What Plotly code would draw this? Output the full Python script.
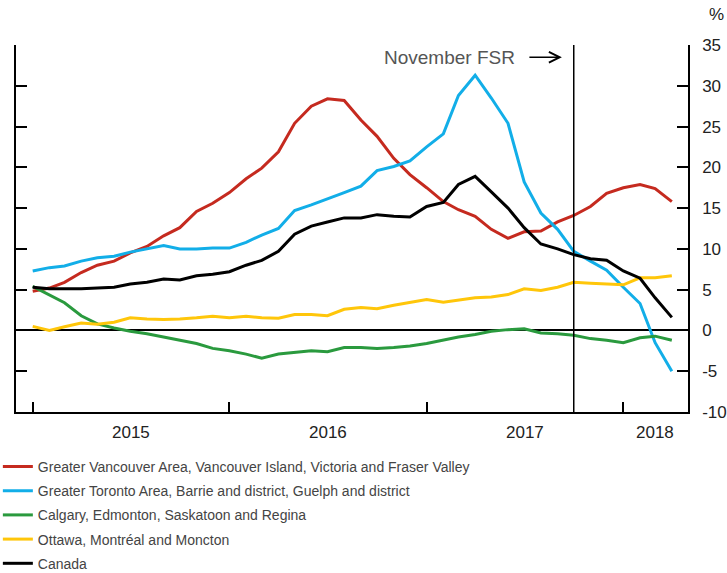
import pandas as pd
import plotly.graph_objects as go

# ---------------- data ----------------
months = pd.date_range("2015-01-01", "2018-04-01", freq="MS")

vancouver = [4.8, 5.2, 5.9, 7.1, 8.0, 8.5, 9.5, 10.3, 11.6, 12.6, 14.6, 15.6,
             16.9, 18.6, 19.9, 21.9, 25.4, 27.5, 28.4, 28.2, 25.8, 23.8, 21.1, 19.1,
             17.5, 15.8, 14.8, 14.0, 12.4, 11.3, 12.1, 12.2, 13.3, 14.1, 15.2, 16.8,
             17.5, 17.9, 17.4, 15.8]
toronto = [7.3, 7.7, 7.9, 8.5, 8.9, 9.1, 9.6, 10.0, 10.4, 10.0, 10.0, 10.1,
           10.1, 10.8, 11.7, 12.5, 14.7, 15.4, 16.1, 16.9, 17.7, 19.6, 20.1, 20.8,
           22.5, 24.1, 28.8, 31.3, 28.5, 25.4, 18.2, 14.4, 12.4, 9.7, 8.5, 7.4,
           5.3, 3.3, -1.5, -5.0]
prairies = [5.4, 4.3, 3.4, 1.8, 0.8, 0.3, -0.1, -0.4, -0.8, -1.2, -1.6, -2.2,
            -2.5, -2.9, -3.4, -2.9, -2.7, -2.5, -2.6, -2.1, -2.1, -2.2, -2.1, -1.9,
            -1.6, -1.2, -0.8, -0.5, -0.1, 0.1, 0.2, -0.3, -0.4, -0.6, -1.0, -1.2,
            -1.5, -0.9, -0.7, -1.2]
ottawa = [0.5, 0.0, 0.45, 0.9, 0.75, 1.0, 1.55, 1.4, 1.35, 1.4, 1.55, 1.75,
          1.55, 1.75, 1.55, 1.5, 1.95, 1.95, 1.8, 2.6, 2.8, 2.65, 3.1, 3.45,
          3.8, 3.45, 3.7, 4.0, 4.1, 4.4, 5.1, 4.9, 5.3, 5.9, 5.8, 5.7,
          5.6, 6.45, 6.45, 6.7]
canada = [5.3, 5.1, 5.1, 5.1, 5.2, 5.3, 5.7, 5.9, 6.3, 6.2, 6.7, 6.9,
          7.2, 8.0, 8.6, 9.7, 11.8, 12.8, 13.3, 13.8, 13.8, 14.2, 14.0, 13.9,
          15.2, 15.7, 17.9, 18.9, 17.0, 15.0, 12.6, 10.6, 10.0, 9.3, 8.8, 8.6,
          7.3, 6.4, 4.0, 1.6]

series_names = [
    "Greater Vancouver Area, Vancouver Island, Victoria and Fraser Valley",
    "Greater Toronto Area, Barrie and district, Guelph and district",
    "Calgary, Edmonton, Saskatoon and Regina",
    "Ottawa, Montréal and Moncton",
    "Canada",
]
series_values = [vancouver, toronto, prairies, ottawa, canada]
series_colors = ["#c52a1f", "#12aee8", "#2a9a3e", "#ffc60a", "#000000"]

year_ticks = ["2015-01-01", "2016-01-01", "2017-01-01", "2018-01-01"]
year_labels = ["2015", "2016", "2017", "2018"]
year_label_pos = ["2015-07-02", "2016-07-02", "2017-07-02", "2018-03-01"]
y_ticks = [-10, -5, 0, 5, 10, 15, 20, 25, 30, 35]
y_tick_labels = ["-10", "-5", "0", "5", "10", "15", "20", "25", "30", "35"]

fsr_date = "2017-10-01"

# ---------------- figure ----------------
fig = go.Figure()
for i, (name, vals, col) in enumerate(zip(series_names, series_values, series_colors)):
    fig.add_trace(go.Scatter(x=months, y=vals, mode="lines", name=name,
                             legendgroup=f"g{i}",
                             line=dict(color=col, width=3)))

tick_font = dict(family="Liberation Sans, Arial, sans-serif", size=17, color="#222222")

fig.update_layout(
    width=727, height=573,
    margin=dict(l=16, r=39, t=45, b=161, autoexpand=False),
    paper_bgcolor="white", plot_bgcolor="white",
    showlegend=True,
    legend=dict(
        x=-0.027, xanchor="left", y=-0.106, yanchor="top",
        font=dict(family="Liberation Sans, Arial, sans-serif",
                  size=14, color="#444444"),
        bgcolor="rgba(0,0,0,0)", borderwidth=0, itemwidth=30,
        tracegroupgap=3,
    ),
    xaxis=dict(
        type="date", range=["2014-12-01", "2018-05-01"],
        showgrid=False, zeroline=False, automargin=False,
        showline=True, linecolor="black", linewidth=1.5, mirror=False,
        tickmode="array", tickvals=year_ticks, showticklabels=False,
        ticks="inside", ticklen=10, tickwidth=1.5, tickcolor="black",
    ),
    yaxis=dict(
        side="right", range=[-10, 35], tickmode="array",
        tickvals=y_ticks, ticktext=y_tick_labels,
        showgrid=False, zeroline=True, zerolinecolor="black", zerolinewidth=2,
        showline=True, linecolor="black", linewidth=1.5, mirror="ticks",
        ticks="inside", ticklen=11, tickwidth=1.5, tickcolor="black",
        tickfont=tick_font, ticklabelstandoff=9, automargin=False,
    ),
)

# vertical marker line for November FSR
fig.add_shape(type="line", xref="x", yref="paper", x0=fsr_date, x1=fsr_date,
              y0=0, y1=1, line=dict(color="black", width=1.5))

annotations = []
for lab, pos in zip(year_labels, year_label_pos):
    annotations.append(dict(x=pos, y=-0.055, xref="x", yref="paper", text=lab,
                            showarrow=False, xanchor="center", yanchor="middle",
                            font=tick_font))
annotations.append(dict(x=1.042, y=1.082, xref="paper", yref="paper", text="%",
                        showarrow=False, xanchor="center", yanchor="middle",
                        font=tick_font))
annotations.append(dict(x=0.7455, y=0.967, xref="paper", yref="paper", text="November FSR",
                        showarrow=False, xanchor="right", yanchor="middle",
                        font=dict(family="Liberation Sans, Arial, sans-serif", size=19,
                                  color="#555555")))
annotations.append(dict(x="2017-09-09", y=33.5, xref="x", yref="y", text="",
                        showarrow=True, axref="pixel", ayref="pixel", ax=-34, ay=0,
                        arrowhead=5, arrowsize=1.4, arrowwidth=1.5, arrowcolor="black",
                        standoff=0, startstandoff=0))
fig.update_layout(annotations=annotations)

# remove the browser's default page margin so the figure fills the window exactly
fig.write_html("out.html",
               config={"displayModeBar": False},
               post_script="document.body.style.margin='0';"
                           "document.body.style.overflow='hidden';")
